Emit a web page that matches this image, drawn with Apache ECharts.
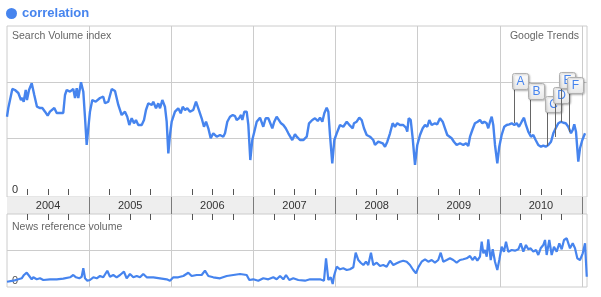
<!DOCTYPE html>
<html><head><meta charset="utf-8">
<script src="https://cdn.jsdelivr.net/npm/echarts@6/dist/echarts.min.js"></script>
<style>html,body{margin:0;padding:0;background:#fff}#c{width:601px;height:297px}</style>
</head><body><div id="c"></div>
<script>
const yearLabels = ['2004','2005','2006','2007','2008','2009','2010'];
const searchTicks = [1, 2];
const newsTicks = [1];
const zeroLabel = [0];

const searchDates = [
2004.000,2004.016,2004.037,2004.065,2004.097,2004.138,2004.170,2004.186,2004.203,2004.228,
2004.243,2004.268,2004.301,2004.332,2004.365,2004.402,2004.430,2004.463,2004.495,2004.523,
2004.544,2004.576,2004.605,2004.645,2004.685,2004.706,2004.727,2004.767,2004.807,2004.828,
2004.849,2004.868,2004.901,2004.929,2004.950,2004.970,2004.990,2005.010,2005.038,2005.080,
2005.104,2005.132,2005.172,2005.193,2005.233,2005.275,2005.315,2005.355,2005.396,2005.436,
2005.464,2005.489,2005.518,2005.546,2005.570,2005.598,2005.640,2005.668,2005.692,2005.720,
2005.741,2005.762,2005.781,2005.814,2005.842,2005.863,2005.891,2005.923,2005.944,2005.964,
2005.984,2006.005,2006.045,2006.085,2006.115,2006.139,2006.167,2006.195,2006.228,2006.268,
2006.301,2006.329,2006.370,2006.398,2006.423,2006.451,2006.480,2006.511,2006.553,2006.593,
2006.633,2006.654,2006.682,2006.715,2006.748,2006.776,2006.796,2006.824,2006.849,2006.865,
2006.889,2006.918,2006.938,2006.962,2006.986,2007.011,2007.040,2007.080,2007.120,2007.149,
2007.181,2007.202,2007.230,2007.254,2007.283,2007.303,2007.336,2007.364,2007.393,2007.425,
2007.445,2007.473,2007.506,2007.527,2007.567,2007.607,2007.649,2007.677,2007.717,2007.750,
2007.783,2007.811,2007.839,2007.863,2007.892,2007.912,2007.932,2007.960,2007.985,2008.014,
2008.054,2008.094,2008.136,2008.176,2008.209,2008.224,2008.257,2008.289,2008.318,2008.346,
2008.379,2008.419,2008.459,2008.480,2008.520,2008.541,2008.574,2008.602,2008.630,2008.663,
2008.695,2008.723,2008.751,2008.784,2008.824,2008.857,2008.873,2008.890,2008.915,2008.939,
2008.967,2008.995,2009.028,2009.061,2009.089,2009.117,2009.141,2009.170,2009.210,2009.238,
2009.271,2009.304,2009.332,2009.360,2009.384,2009.413,2009.441,2009.474,2009.515,2009.555,
2009.588,2009.616,2009.637,2009.665,2009.697,2009.730,2009.758,2009.786,2009.811,2009.840,
2009.859,2009.880,2009.901,2009.920,2009.941,2009.969,2009.993,2010.022,2010.054,2010.083,
2010.115,2010.144,2010.176,2010.205,2010.233,2010.266,2010.294,2010.318,2010.346,2010.379,
2010.407,2010.436,2010.468,2010.501,2010.529,2010.558,2010.590,2010.623,2010.651,2010.680,
2010.712,2010.744,2010.772,2010.802,2010.833,2010.866,2010.887,2010.906,2010.927,2010.955,
2010.976,2011.004,2011.037
];
const searchValues = [
1.390,1.544,1.567,1.882,1.864,1.811,1.686,1.722,1.656,1.864,
1.686,1.864,1.983,1.775,1.567,1.544,1.544,1.479,1.408,1.479,
1.509,1.544,1.456,1.456,1.456,1.775,1.864,1.834,1.882,1.722,
1.894,1.722,2.001,1.834,1.367,0.888,1.189,1.479,1.686,1.656,
1.628,1.722,1.745,1.628,1.656,1.882,1.846,1.598,1.420,1.479,
1.390,1.243,1.362,1.273,1.331,1.243,1.243,1.331,1.509,1.628,
1.656,1.598,1.656,1.539,1.628,1.539,1.686,1.567,1.301,0.740,
1.065,1.301,1.479,1.539,1.450,1.567,1.509,1.539,1.479,1.509,
1.656,1.539,1.362,1.212,1.301,1.184,1.007,1.095,1.035,1.065,
1.035,1.095,1.301,1.390,1.420,1.400,1.331,1.362,1.420,1.331,
1.479,1.479,1.243,0.621,0.976,1.124,1.301,1.372,1.212,1.362,
1.362,1.372,1.184,1.301,1.390,1.420,1.273,1.243,1.184,1.095,
1.095,0.976,1.078,1.035,0.976,0.976,1.035,1.273,1.331,1.362,
1.314,1.372,1.301,1.450,1.550,1.479,1.065,0.563,0.976,1.095,
1.243,1.212,1.301,1.230,1.184,1.273,1.301,1.372,1.331,1.184,
1.065,1.035,0.976,0.888,0.946,0.976,0.918,0.857,0.946,1.095,
1.273,1.212,1.273,1.243,1.243,1.195,1.124,1.362,1.331,1.007,
0.533,0.888,1.065,1.184,1.243,1.212,1.331,1.243,1.273,1.255,
1.362,1.301,1.184,1.065,1.035,1.007,0.946,0.888,0.918,0.888,
0.918,0.870,1.035,1.154,1.273,1.301,1.331,1.273,1.301,1.273,
1.184,1.301,1.390,1.243,0.888,0.563,0.857,1.065,1.212,1.243,
1.255,1.273,1.243,1.273,1.212,1.301,1.372,1.243,1.124,1.035,
1.065,0.976,0.888,0.857,0.875,0.857,0.888,0.946,1.095,1.184,
1.273,1.301,1.283,1.273,1.212,1.095,1.154,1.255,1.124,0.591,
0.829,0.976,1.095
];

const newsDates = [
2004.000,2004.077,2004.138,2004.179,2004.207,2004.240,2004.271,2004.301,2004.320,2004.362,
2004.402,2004.442,2004.523,2004.605,2004.685,2004.767,2004.807,2004.840,2004.880,2004.909,
2004.929,2004.950,2004.978,2005.010,2005.051,2005.092,2005.132,2005.172,2005.221,2005.254,
2005.294,2005.335,2005.376,2005.424,2005.457,2005.497,2005.538,2005.579,2005.619,2005.659,
2005.701,2005.781,2005.863,2005.944,2005.984,2006.025,2006.085,2006.146,2006.207,2006.248,
2006.309,2006.370,2006.410,2006.451,2006.511,2006.593,2006.675,2006.755,2006.837,2006.918,
2006.950,2006.998,2007.059,2007.120,2007.181,2007.242,2007.283,2007.324,2007.364,2007.397,
2007.437,2007.485,2007.546,2007.628,2007.689,2007.750,2007.811,2007.859,2007.884,2007.912,
2007.941,2007.965,2007.981,2008.014,2008.054,2008.094,2008.136,2008.176,2008.216,2008.245,
2008.277,2008.306,2008.338,2008.370,2008.398,2008.431,2008.459,2008.501,2008.541,2008.581,
2008.622,2008.663,2008.703,2008.744,2008.784,2008.824,2008.866,2008.906,2008.946,2008.979,
2009.007,2009.048,2009.089,2009.129,2009.170,2009.210,2009.250,2009.280,2009.311,2009.353,
2009.393,2009.433,2009.474,2009.515,2009.555,2009.596,2009.637,2009.670,2009.697,2009.726,
2009.758,2009.779,2009.799,2009.819,2009.840,2009.859,2009.889,2009.913,2009.941,2009.969,
2009.993,2010.022,2010.050,2010.075,2010.103,2010.144,2010.184,2010.225,2010.254,2010.286,
2010.318,2010.346,2010.375,2010.407,2010.440,2010.468,2010.497,2010.529,2010.550,2010.570,
2010.602,2010.631,2010.659,2010.692,2010.724,2010.753,2010.781,2010.814,2010.833,2010.854,
2010.887,2010.915,2010.943,2010.976,2011.009,2011.037,2011.058
];
const newsValues = [
0.119,0.147,0.186,0.214,0.306,0.369,0.278,0.186,0.242,0.186,
0.214,0.167,0.186,0.186,0.203,0.242,0.306,0.242,0.214,0.258,
0.492,0.214,0.147,0.167,0.242,0.214,0.278,0.242,0.425,0.258,
0.306,0.242,0.306,0.397,0.214,0.333,0.242,0.278,0.242,0.333,
0.242,0.242,0.214,0.186,0.147,0.242,0.242,0.278,0.369,0.278,
0.306,0.306,0.425,0.278,0.242,0.214,0.278,0.306,0.333,0.306,
0.167,0.186,0.147,0.214,0.186,0.242,0.186,0.278,0.186,0.306,
0.167,0.214,0.167,0.147,0.186,0.186,0.186,0.147,0.769,0.167,
0.242,0.056,0.278,0.536,0.464,0.492,0.444,0.464,0.519,0.925,
0.722,0.647,0.583,0.675,0.583,0.925,0.583,0.647,0.556,0.583,
0.536,0.703,0.583,0.631,0.675,0.703,0.675,0.583,0.444,0.353,
0.519,0.675,0.742,0.675,0.722,0.647,0.722,0.925,0.675,0.722,
0.769,0.722,0.647,0.722,0.742,0.769,0.833,0.722,0.814,0.703,
0.814,1.231,0.908,1.000,0.814,1.297,0.722,1.019,0.675,0.444,
0.722,1.092,0.953,1.231,0.953,1.000,0.981,1.019,1.186,0.953,
1.139,1.019,1.047,0.953,1.000,0.861,1.047,1.139,1.278,0.861,
1.278,0.861,1.092,0.953,1.186,1.019,1.278,1.325,1.297,1.047,
1.186,1.047,0.769,0.722,0.908,1.186,0.258
];

const annLetters = ['A','B','C','D','E','F'];
const annDates = [2010.169, 2010.367, 2010.570, 2010.671, 2010.748, 2010.842];
const annValues = [1.278, 1.101, 0.870, 1.030, 1.296, 1.118];

const BLUE = '#4684ee';
const FONT = 'Arial, "Liberation Sans", sans-serif';
const X_MIN = 2004, X_MAX = 2011.061;
const yearEdges = yearLabels.map(y => +y + 1);
const yearMids = yearLabels.map(y => +y + 0.5);
const leaderLen = [34, 34, 34, 34, 34, 39];

const chart = echarts.init(document.getElementById('c'), null, {renderer: 'canvas'});

function baseX(idx, extra) {
  return Object.assign({
    gridIndex: idx, type: 'value', min: X_MIN, max: X_MAX, interval: 1,
    axisLine: {show: false},
    axisLabel: {show: false},
    axisTick: {show: false, inside: true, customValues: yearEdges},
    minorTick: {show: false},
    splitLine: {show: true, lineStyle: {color: '#cccccc', width: 1}},
    minorSplitLine: {show: false}
  }, extra);
}

const option = {
  animation: false,
  textStyle: {fontFamily: FONT},
  legend: {
    data: ['correlation'], left: 6, top: 7, padding: 0, itemGap: 10,
    icon: 'circle', itemWidth: 11, itemHeight: 11, selectedMode: false,
    textStyle: {color: BLUE, fontSize: 13, fontWeight: 'bold', fontFamily: FONT}
  },
  title: [
    {text: 'Search Volume index', left: 12, top: 31, padding: 0,
     textStyle: {fontSize: 10.5, fontWeight: 'normal', color: '#666', fontFamily: FONT}},
    {text: 'Google Trends', right: 22, top: 31, padding: 0,
     textStyle: {fontSize: 10.5, fontWeight: 'normal', color: '#666', fontFamily: FONT}},
    {text: 'News reference volume', left: 12, top: 222, padding: 0,
     textStyle: {fontSize: 10.5, fontWeight: 'normal', color: '#666', fontFamily: FONT}}
  ],
  grid: [
    {left: 7, top: 26, width: 580, height: 171, show: true, borderColor: '#cccccc', borderWidth: 1, backgroundColor: 'rgba(0,0,0,0)', outerBoundsMode: 'none'},
    {left: 7, top: 197, width: 580, height: 17, show: true, borderWidth: 0, backgroundColor: '#eeeeee', outerBoundsMode: 'none'},
    {left: 7, top: 214, width: 580, height: 73, show: true, borderColor: '#cccccc', borderWidth: 1, backgroundColor: 'rgba(0,0,0,0)', outerBoundsMode: 'none'}
  ],
  xAxis: [
    baseX(0, {
      minorTick: {show: true, splitNumber: 4, length: 6, lineStyle: {color: '#555', width: 1}}
    }),
    baseX(1, {
      axisTick: {show: false, inside: false, customValues: yearEdges},
      minorTick: {show: true, splitNumber: 4, length: 6, lineStyle: {color: '#555', width: 1}},
      splitLine: {show: true, lineStyle: {color: '#7a7a7a', width: 1}},
      axisLabel: {show: true, inside: true, customValues: yearMids, margin: 8,
        verticalAlign: 'middle', fontSize: 11, color: '#333', fontFamily: FONT,
        formatter: v => yearLabels[Math.floor(v) - 2004]}
    }),
    baseX(2, {})
  ],
  yAxis: [
    {gridIndex: 0, type: 'value', min: -0.0355, max: 3,
     axisLine: {show: false}, axisTick: {show: false, customValues: searchTicks},
     splitLine: {show: true, lineStyle: {color: '#cccccc', width: 1}},
     axisLabel: {show: true, customValues: zeroLabel, inside: true, margin: 5, verticalAlign: 'bottom',
       fontSize: 11, color: '#333', fontFamily: FONT}},
    {gridIndex: 1, type: 'value', min: 0, max: 1, show: false},
    {gridIndex: 2, type: 'value', min: -0.0278, max: 2,
     axisLine: {show: false}, axisTick: {show: false, customValues: newsTicks},
     splitLine: {show: true, lineStyle: {color: '#cccccc', width: 1}},
     axisLabel: {show: true, customValues: zeroLabel, inside: true, margin: 5, verticalAlign: 'bottom',
       fontSize: 11, color: '#555', fontFamily: FONT}}
  ],
  series: [
    {name: 'correlation', type: 'line', xAxisIndex: 0, yAxisIndex: 0,
     data: searchDates.map((d, i) => [d, searchValues[i]]),
     showSymbol: false, symbol: 'none', itemStyle: {color: BLUE},
     lineStyle: {color: BLUE, width: 2.4}, z: 3},
    {name: 'correlation news', type: 'line', xAxisIndex: 2, yAxisIndex: 2,
     data: newsDates.map((d, i) => [d, newsValues[i]]),
     showSymbol: false, symbol: 'none', itemStyle: {color: BLUE},
     lineStyle: {color: BLUE, width: 2.2}, z: 3},
    {name: 'events', type: 'custom', xAxisIndex: 0, yAxisIndex: 0, z: 6, clip: false,
     data: annDates.map((d, i) => [d, annValues[i]]),
     renderItem: function (params, api) {
       const i = params.dataIndex;
       const p = api.coord([api.value(0), api.value(1)]);
       const x = Math.round(p[0]) + 0.5;
       const boxBottom = Math.round(p[1] - leaderLen[i]);
       const boxTop = boxBottom - 16;
       return {
         type: 'group',
         children: [
           {type: 'line', shape: {x1: x, y1: boxBottom, x2: x, y2: p[1]},
            style: {stroke: '#666', lineWidth: 1}},
           {type: 'rect', shape: {x: x - 2, y: boxTop + 0.5, width: 16, height: 16, r: 2},
            style: {
              fill: new echarts.graphic.LinearGradient(0, 0, 0, 1, [
                {offset: 0, color: '#ffffff'}, {offset: 1, color: '#e6e6e6'}]),
              stroke: '#b0b0b0', lineWidth: 1,
              shadowBlur: 2, shadowOffsetX: 1, shadowOffsetY: 1, shadowColor: 'rgba(0,0,0,0.25)'
            }},
           {type: 'text', style: {text: annLetters[i], x: x + 6, y: boxTop + 9,
             align: 'center', verticalAlign: 'middle', fill: BLUE,
             font: '12px Arial, "Liberation Sans", sans-serif'}}
         ]
       };
     }}
  ]
};
chart.setOption(option);
</script></body></html>
